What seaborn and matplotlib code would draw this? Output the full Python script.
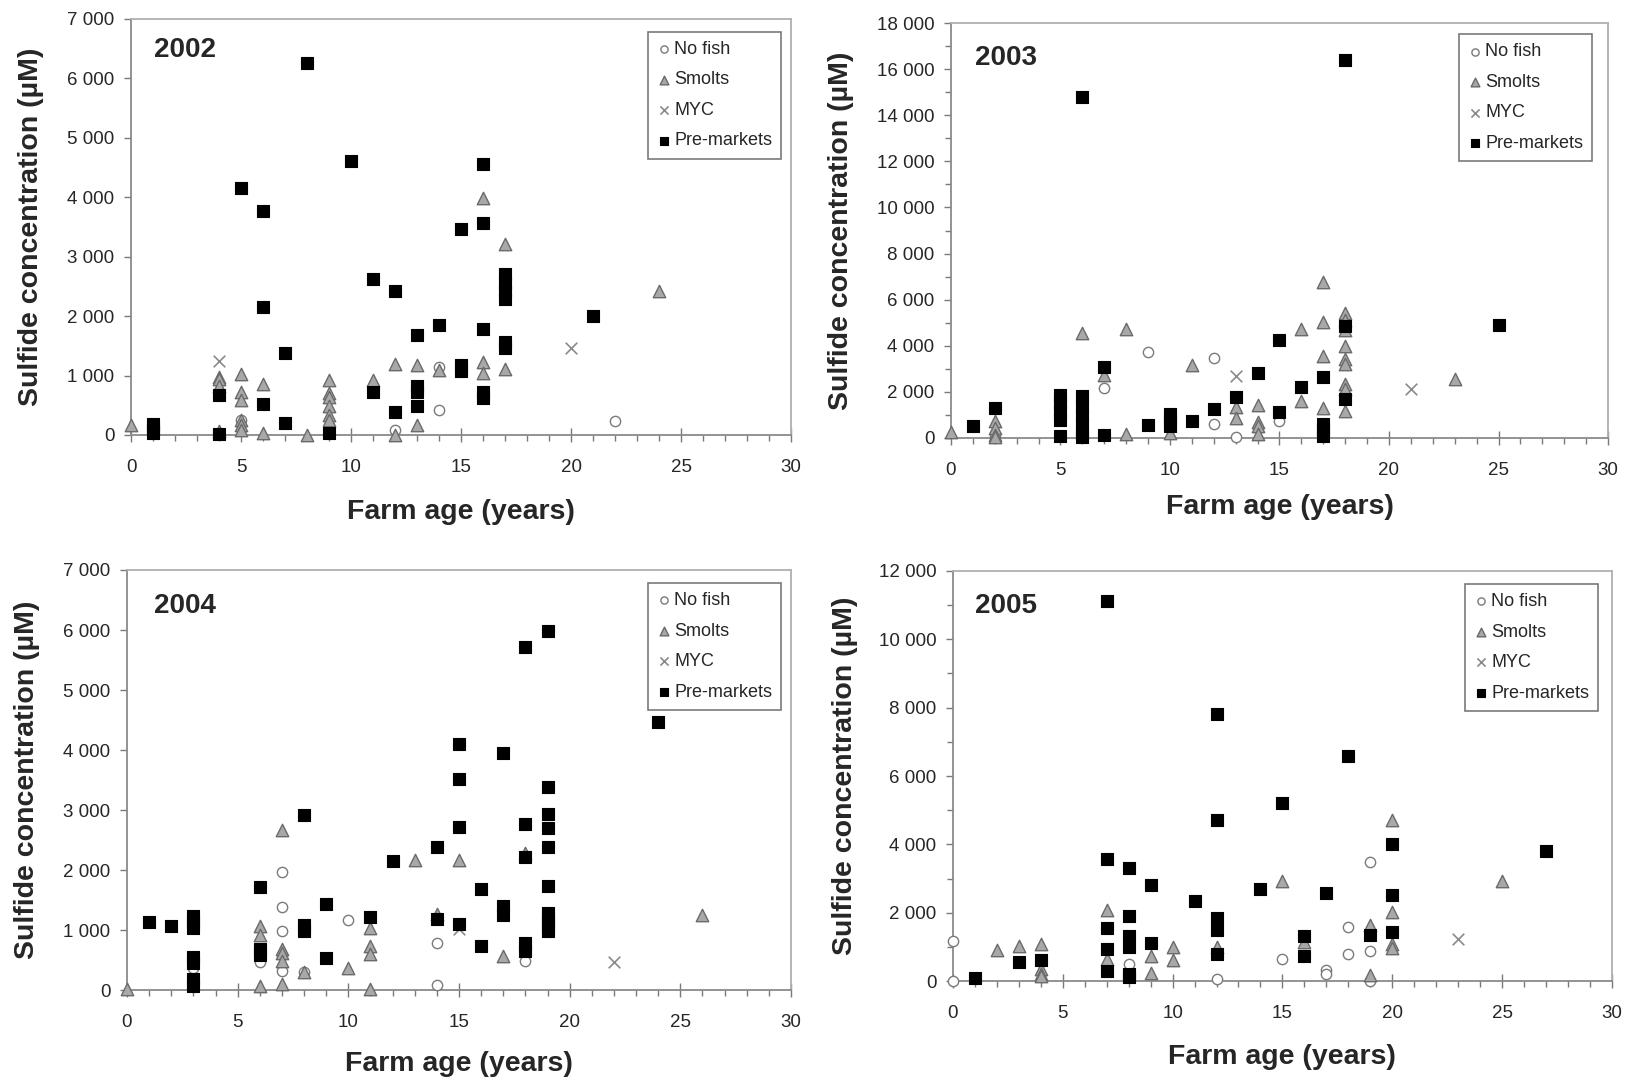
import matplotlib
matplotlib.use("Agg")
import matplotlib.pyplot as plt
import seaborn as sns
from matplotlib.ticker import MultipleLocator, FuncFormatter

sns.set_style("white")
plt.rcParams["font.family"] = ["Liberation Sans", "DejaVu Sans"]

# ---------------- 2002 ----------------
nofish_age_2002 = [5, 12, 14, 14, 22]
nofish_sulf_2002 = [250, 90, 1150, 420, 230]
smolts_age_2002 = [0, 4, 4, 4, 4, 5, 5, 5, 5, 5, 5, 6, 6, 8, 9, 9, 9, 9, 9, 9,
                   11, 12, 12, 13, 13, 14, 16, 16, 16, 17, 17, 24]
smolts_sulf_2002 = [170, 980, 940, 830, 60, 1030, 730, 580, 260, 170, 80, 860, 30, 0,
                    920, 700, 640, 480, 340, 250, 920, 1200, 0, 1180, 160, 1100,
                    3980, 1230, 1040, 3220, 1110, 2430]
myc_age_2002 = [4, 20]
myc_sulf_2002 = [1250, 1470]
pre_age_2002 = [1, 1, 1, 4, 4, 5, 6, 6, 6, 7, 7, 8, 9, 10, 11, 11, 12, 12, 13, 13, 13,
                13, 14, 15, 15, 15, 16, 16, 16, 16, 16, 17, 17, 17, 17, 17, 17, 21]
pre_sulf_2002 = [30, 100, 180, 680, 20, 4160, 3770, 2150, 520, 1380, 200, 6260, 30,
                 4610, 2620, 720, 2420, 390, 1690, 830, 720, 480, 1850, 3470, 1170,
                 1080, 4560, 3560, 1790, 730, 620, 2700, 2560, 2420, 2290, 1560,
                 1470, 2000]

# ---------------- 2003 ----------------
nofish_age_2003 = [2, 7, 9, 12, 12, 13, 15]
nofish_sulf_2003 = [30, 2170, 3750, 3480, 600, 60, 750]
smolts_age_2003 = [0, 2, 2, 2, 2, 6, 7, 8, 8, 10, 11, 13, 13, 14, 14, 14, 14, 16, 16,
                   17, 17, 17, 17, 18, 18, 18, 18, 18, 18, 18, 18, 18, 23]
smolts_sulf_2003 = [280, 730, 450, 150, 50, 4550, 2750, 4740, 170, 200, 3170, 1330,
                    870, 1450, 680, 530, 170, 4710, 1600, 6770, 5030, 3540, 1300,
                    5430, 5100, 4670, 3990, 3430, 3220, 2350, 2130, 1190, 2540]
myc_age_2003 = [13, 21]
myc_sulf_2003 = [2700, 2130]
pre_age_2003 = [1, 2, 5, 5, 5, 5, 5, 6, 6, 6, 6, 6, 6, 6, 7, 7, 9, 10, 10, 10, 11,
                12, 13, 14, 15, 15, 16, 17, 17, 17, 17, 18, 18, 18, 25]
pre_sulf_2003 = [500, 1300, 1850, 1500, 1150, 800, 100, 14800, 1800, 1400, 1000,
                 600, 200, 50, 3100, 150, 550, 1050, 750, 500, 750, 1260, 1770,
                 2810, 4230, 1120, 2200, 2640, 600, 350, 100, 16400, 4840, 1700,
                 4910]

# ---------------- 2004 ----------------
nofish_age_2004 = [3, 6, 7, 7, 7, 7, 8, 10, 14, 14, 18]
nofish_sulf_2004 = [370, 470, 1960, 1390, 990, 320, 300, 1170, 780, 80, 490]
smolts_age_2004 = [0, 6, 6, 6, 7, 7, 7, 7, 7, 8, 10, 11, 11, 11, 11, 13, 14, 15, 17,
                   18, 26]
smolts_sulf_2004 = [20, 1070, 910, 70, 2660, 680, 620, 480, 95, 300, 370, 1040, 730,
                    600, 10, 2160, 1270, 2170, 570, 2290, 1250]
myc_age_2004 = [15, 22]
myc_sulf_2004 = [1010, 470]
pre_age_2004 = [1, 2, 3, 3, 3, 3, 3, 3, 3, 6, 6, 6, 8, 8, 8, 9, 9, 11, 12, 14, 14,
                15, 15, 15, 15, 16, 16, 17, 17, 17, 18, 18, 18, 18, 18, 19, 19, 19,
                19, 19, 19, 19, 19, 19, 19, 24]
pre_sulf_2004 = [1140, 1070, 1230, 1130, 1030, 550, 450, 190, 70, 1710, 680, 580,
                 2920, 1080, 990, 1440, 540, 1210, 2150, 2380, 1190, 4100, 3510,
                 2710, 1100, 1680, 735, 3950, 1400, 1250, 5720, 2760, 2210, 780,
                 650, 5990, 3380, 2930, 2700, 2390, 1730, 1280, 1180, 1080, 990,
                 4470]

# ---------------- 2005 ----------------
nofish_age_2005 = [0, 0, 8, 12, 15, 17, 17, 18, 18, 19, 19, 19]
nofish_sulf_2005 = [1160, 0, 510, 70, 650, 310, 210, 1590, 780, 3480, 880, 0]
smolts_age_2005 = [2, 3, 4, 4, 4, 4, 7, 7, 9, 9, 10, 10, 12, 15, 16, 19, 19, 20, 20,
                   20, 20, 25]
smolts_sulf_2005 = [900, 1040, 1090, 360, 214, 136, 2070, 650, 730, 240, 990, 630,
                    1000, 2940, 1140, 1630, 190, 4710, 2020, 1090, 960, 2920]
myc_age_2005 = [23]
myc_sulf_2005 = [1220]
pre_age_2005 = [1, 3, 4, 7, 7, 7, 7, 7, 8, 8, 8, 8, 8, 8, 9, 9, 11, 12, 12, 12, 12,
                12, 14, 15, 16, 16, 17, 18, 19, 20, 20, 20, 27]
pre_sulf_2005 = [100, 560, 620, 11130, 3580, 1550, 950, 290, 3300, 1890, 1330, 1000,
                 200, 110, 2800, 1110, 2340, 7810, 4700, 1840, 1480, 800, 2680, 5210,
                 1320, 730, 2580, 6600, 1350, 4020, 2520, 1430, 3820]

group_labels = ["No fish", "Smolts", "MYC", "Pre-markets"]
x_label = "Farm age (years)"
y_label = "Sulfide concentration (\u00b5M)"

thousands = FuncFormatter(lambda v, p: f"{int(round(v)):,}".replace(",", " "))


def draw_panel(ax, year, groups, ymax, ystep, yminor, year_xy, legend_anchor,
               xlabel_y, ylabel_x):
    styles = [
        dict(marker="o", s=55, facecolor="white", edgecolor="#7a7a7a", linewidth=1.0, zorder=3),
        dict(marker="^", s=80, facecolor="#a8a8a8", edgecolor="#6a6a6a", linewidth=1.0, zorder=4),
        dict(marker="x", s=70, color="#8a8a8a", linewidth=1.2, zorder=5),
        dict(marker="s", s=80, facecolor="black", edgecolor="black", linewidth=0.8, zorder=6),
    ]
    for (ages, vals), label, st in zip(groups, group_labels, styles):
        sns.scatterplot(x=ages, y=vals, ax=ax, label=label, clip_on=False, **st)

    ax.set_xlim(0, 30)
    ax.set_ylim(0, ymax)
    ax.xaxis.set_major_locator(MultipleLocator(5))
    ax.xaxis.set_minor_locator(MultipleLocator(1))
    ax.yaxis.set_major_locator(MultipleLocator(ystep))
    if yminor:
        ax.yaxis.set_minor_locator(MultipleLocator(yminor))
    ax.yaxis.set_major_formatter(thousands)

    ax.tick_params(axis="x", which="major", direction="inout", length=10, width=1.0,
                   color="#7a7a7a", labelsize=13.5, pad=12, bottom=True)
    ax.tick_params(axis="x", which="minor", direction="out", length=4, width=1.0,
                   color="#7a7a7a", bottom=True)
    ax.tick_params(axis="y", which="major", direction="out", length=5, width=1.0,
                   color="#7a7a7a", labelsize=13.5, pad=7, left=True)
    ax.tick_params(axis="y", which="minor", direction="out", length=4, width=1.0,
                   color="#7a7a7a", left=True)

    for side in ["left", "bottom"]:
        ax.spines[side].set_color("#8a8a8a")
        ax.spines[side].set_linewidth(1.3)
    for side in ["top", "right"]:
        ax.spines[side].set_color("#b0b0b0")
        ax.spines[side].set_linewidth(1.3)

    ax.set_xlabel(x_label, fontsize=20.5, fontweight="bold")
    ax.set_ylabel(y_label, fontsize=20.5, fontweight="bold")
    ax.xaxis.label.set_verticalalignment("center")
    ax.yaxis.label.set_verticalalignment("center")
    ax.xaxis.set_label_coords(0.5, xlabel_y)
    ax.yaxis.set_label_coords(ylabel_x, 0.5)

    ax.text(year_xy[0], year_xy[1], year, transform=ax.transAxes, fontsize=20,
            fontweight="bold", ha="left", va="center")

    leg = ax.legend(loc="upper right", bbox_to_anchor=legend_anchor, borderaxespad=0,
                    frameon=True, fancybox=False, edgecolor="#7a7a7a", framealpha=1,
                    fontsize=13, labelspacing=0.75, handletextpad=0.15,
                    handlelength=0.8, borderpad=0.5, markerscale=0.7)
    leg.get_frame().set_linewidth(1.2)
    leg.set_zorder(10)


fig = plt.figure(figsize=(16.32, 10.82), dpi=100)
ax1 = fig.add_axes([0.0803, 0.598, 0.4044, 0.3845])
ax2 = fig.add_axes([0.5827, 0.5952, 0.4026, 0.3835])
ax3 = fig.add_axes([0.0778, 0.0850, 0.4069, 0.3882])
ax4 = fig.add_axes([0.5839, 0.0933, 0.4038, 0.3790])

draw_panel(ax1, "2002",
           [(nofish_age_2002, nofish_sulf_2002), (smolts_age_2002, smolts_sulf_2002),
            (myc_age_2002, myc_sulf_2002), (pre_age_2002, pre_sulf_2002)],
           7000, 1000, None, (0.035, 0.925), (0.985, 0.969), -0.185, -0.1515)
draw_panel(ax2, "2003",
           [(nofish_age_2003, nofish_sulf_2003), (smolts_age_2003, smolts_sulf_2003),
            (myc_age_2003, myc_sulf_2003), (pre_age_2003, pre_sulf_2003)],
           18000, 2000, 1000, (0.037, 0.916), (0.976, 0.973), -0.166, -0.167)
draw_panel(ax3, "2004",
           [(nofish_age_2004, nofish_sulf_2004), (smolts_age_2004, smolts_sulf_2004),
            (myc_age_2004, myc_sulf_2004), (pre_age_2004, pre_sulf_2004)],
           7000, 1000, None, (0.041, 0.914), (0.985, 0.969), -0.176, -0.151)
draw_panel(ax4, "2005",
           [(nofish_age_2005, nofish_sulf_2005), (smolts_age_2005, smolts_sulf_2005),
            (myc_age_2005, myc_sulf_2005), (pre_age_2005, pre_sulf_2005)],
           12000, 2000, 1000, (0.033, 0.915), (0.979, 0.968), -0.185, -0.164)

fig.savefig("out.png", dpi=100)
